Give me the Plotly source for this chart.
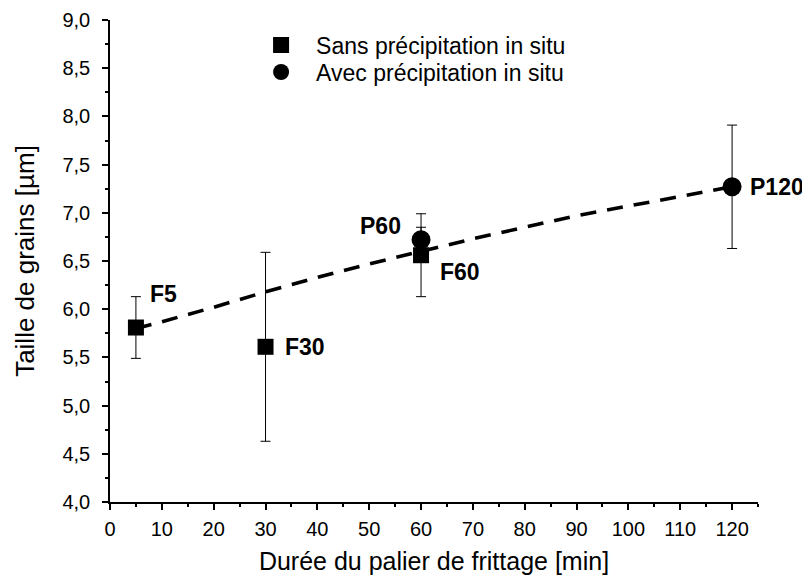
import plotly.graph_objects as go

# Sans précipitation in situ (squares)
f_x = [5, 30, 60]
f_y = [5.81, 5.61, 6.56]
f_err = [0.32, 0.98, 0.43]
f_labels = ["F5", "F30", "F60"]

# Avec précipitation in situ (circles)
p_x = [60, 120]
p_y = [6.72, 7.27]
p_err = [0.13, 0.64]
p_labels = ["P60", "P120"]

# Dashed trend curve
fit_x = [5, 10, 20, 30, 40, 50, 60, 70, 80, 90, 100, 110, 120]
fit_y = [5.80, 5.87, 6.02, 6.18, 6.33, 6.47, 6.60, 6.73, 6.85, 6.97, 7.07, 7.17, 7.27]

x_ticks = [0, 10, 20, 30, 40, 50, 60, 70, 80, 90, 100, 110, 120]
y_ticks = [4.0, 4.5, 5.0, 5.5, 6.0, 6.5, 7.0, 7.5, 8.0, 8.5, 9.0]

FONT = "Liberation Sans, Arial, sans-serif"

fig = go.Figure()

fig.add_trace(go.Scatter(
    x=fit_x, y=fit_y, mode="lines",
    line=dict(color="black", width=3.6, dash="16px,11px"),
    showlegend=False, hoverinfo="skip"))

fig.add_trace(go.Scatter(
    x=f_x, y=f_y, mode="markers", name="Sans précipitation in situ",
    marker=dict(symbol="square", size=16, color="black"),
    error_y=dict(type="data", array=f_err, color="black", thickness=1, width=5),
    legend="legend"))

fig.add_trace(go.Scatter(
    x=p_x, y=p_y, mode="markers", name="Avec précipitation in situ",
    marker=dict(symbol="circle", size=19, color="black"),
    error_y=dict(type="data", array=p_err, color="black", thickness=1, width=5),
    legend="legend2"))

# point labels, anchored to the data points
offsets = {
    "F5": dict(xanchor="left", xshift=12, yshift=34),
    "F30": dict(xanchor="left", xshift=17, yshift=0),
    "F60": dict(xanchor="left", xshift=17, yshift=-17),
    "P60": dict(xanchor="right", xshift=-18, yshift=14),
    "P120": dict(xanchor="left", xshift=16, yshift=0),
}
for xs, ys, labs in [(f_x, f_y, f_labels), (p_x, p_y, p_labels)]:
    for xv, yv, lab in zip(xs, ys, labs):
        fig.add_annotation(x=xv, y=yv, text="<b>%s</b>" % lab, showarrow=False,
                           yanchor="middle", font=dict(family=FONT, size=23, color="black"),
                           **offsets[lab])

leg_common = dict(xanchor="left", yanchor="middle",
                  font=dict(family=FONT, size=23, color="black"),
                  bgcolor="rgba(0,0,0,0)", itemwidth=60)

fig.update_layout(
    width=802, height=575,
    margin=dict(l=102, r=52, t=12, b=81, autoexpand=False),
    paper_bgcolor="white", plot_bgcolor="white",
    separators=", ",
    font=dict(family=FONT, color="black"),
    legend=dict(x=0.21, y=0.948, **leg_common),
    legend2=dict(x=0.21, y=0.892, **leg_common),
    showlegend=True,
)

fig.update_xaxes(
    range=[0, 125], tickvals=x_ticks, ticktext=[str(v) for v in x_ticks],
    showgrid=False, zeroline=False, showline=True, linecolor="black", linewidth=1.5,
    ticks="outside", ticklen=6, tickwidth=1.5, tickcolor="black",
    minor=dict(ticks="outside", ticklen=3, dtick=5, tick0=0, tickcolor="black", tickwidth=1.5),
    tickfont=dict(family=FONT, size=20, color="black"), ticklabelstandoff=2,
    automargin=False,
    title=dict(text="Durée du palier de frittage [min]", font=dict(family=FONT, size=25, color="black"), standoff=14),
)
fig.update_yaxes(
    range=[4.0, 9.0], tickvals=y_ticks, tickformat=".1f",
    showgrid=False, zeroline=False, showline=True, linecolor="black", linewidth=1.5,
    ticks="outside", ticklen=6, tickwidth=1.5, tickcolor="black",
    minor=dict(ticks="outside", ticklen=3, dtick=0.25, tick0=4.0, tickcolor="black", tickwidth=1.5),
    tickfont=dict(family=FONT, size=20, color="black"), ticklabelstandoff=8,
    automargin=False,
    title=dict(text="Taille de grains [µm]", font=dict(family=FONT, size=26, color="black"), standoff=20),
)

fig.write_html("out.html")
